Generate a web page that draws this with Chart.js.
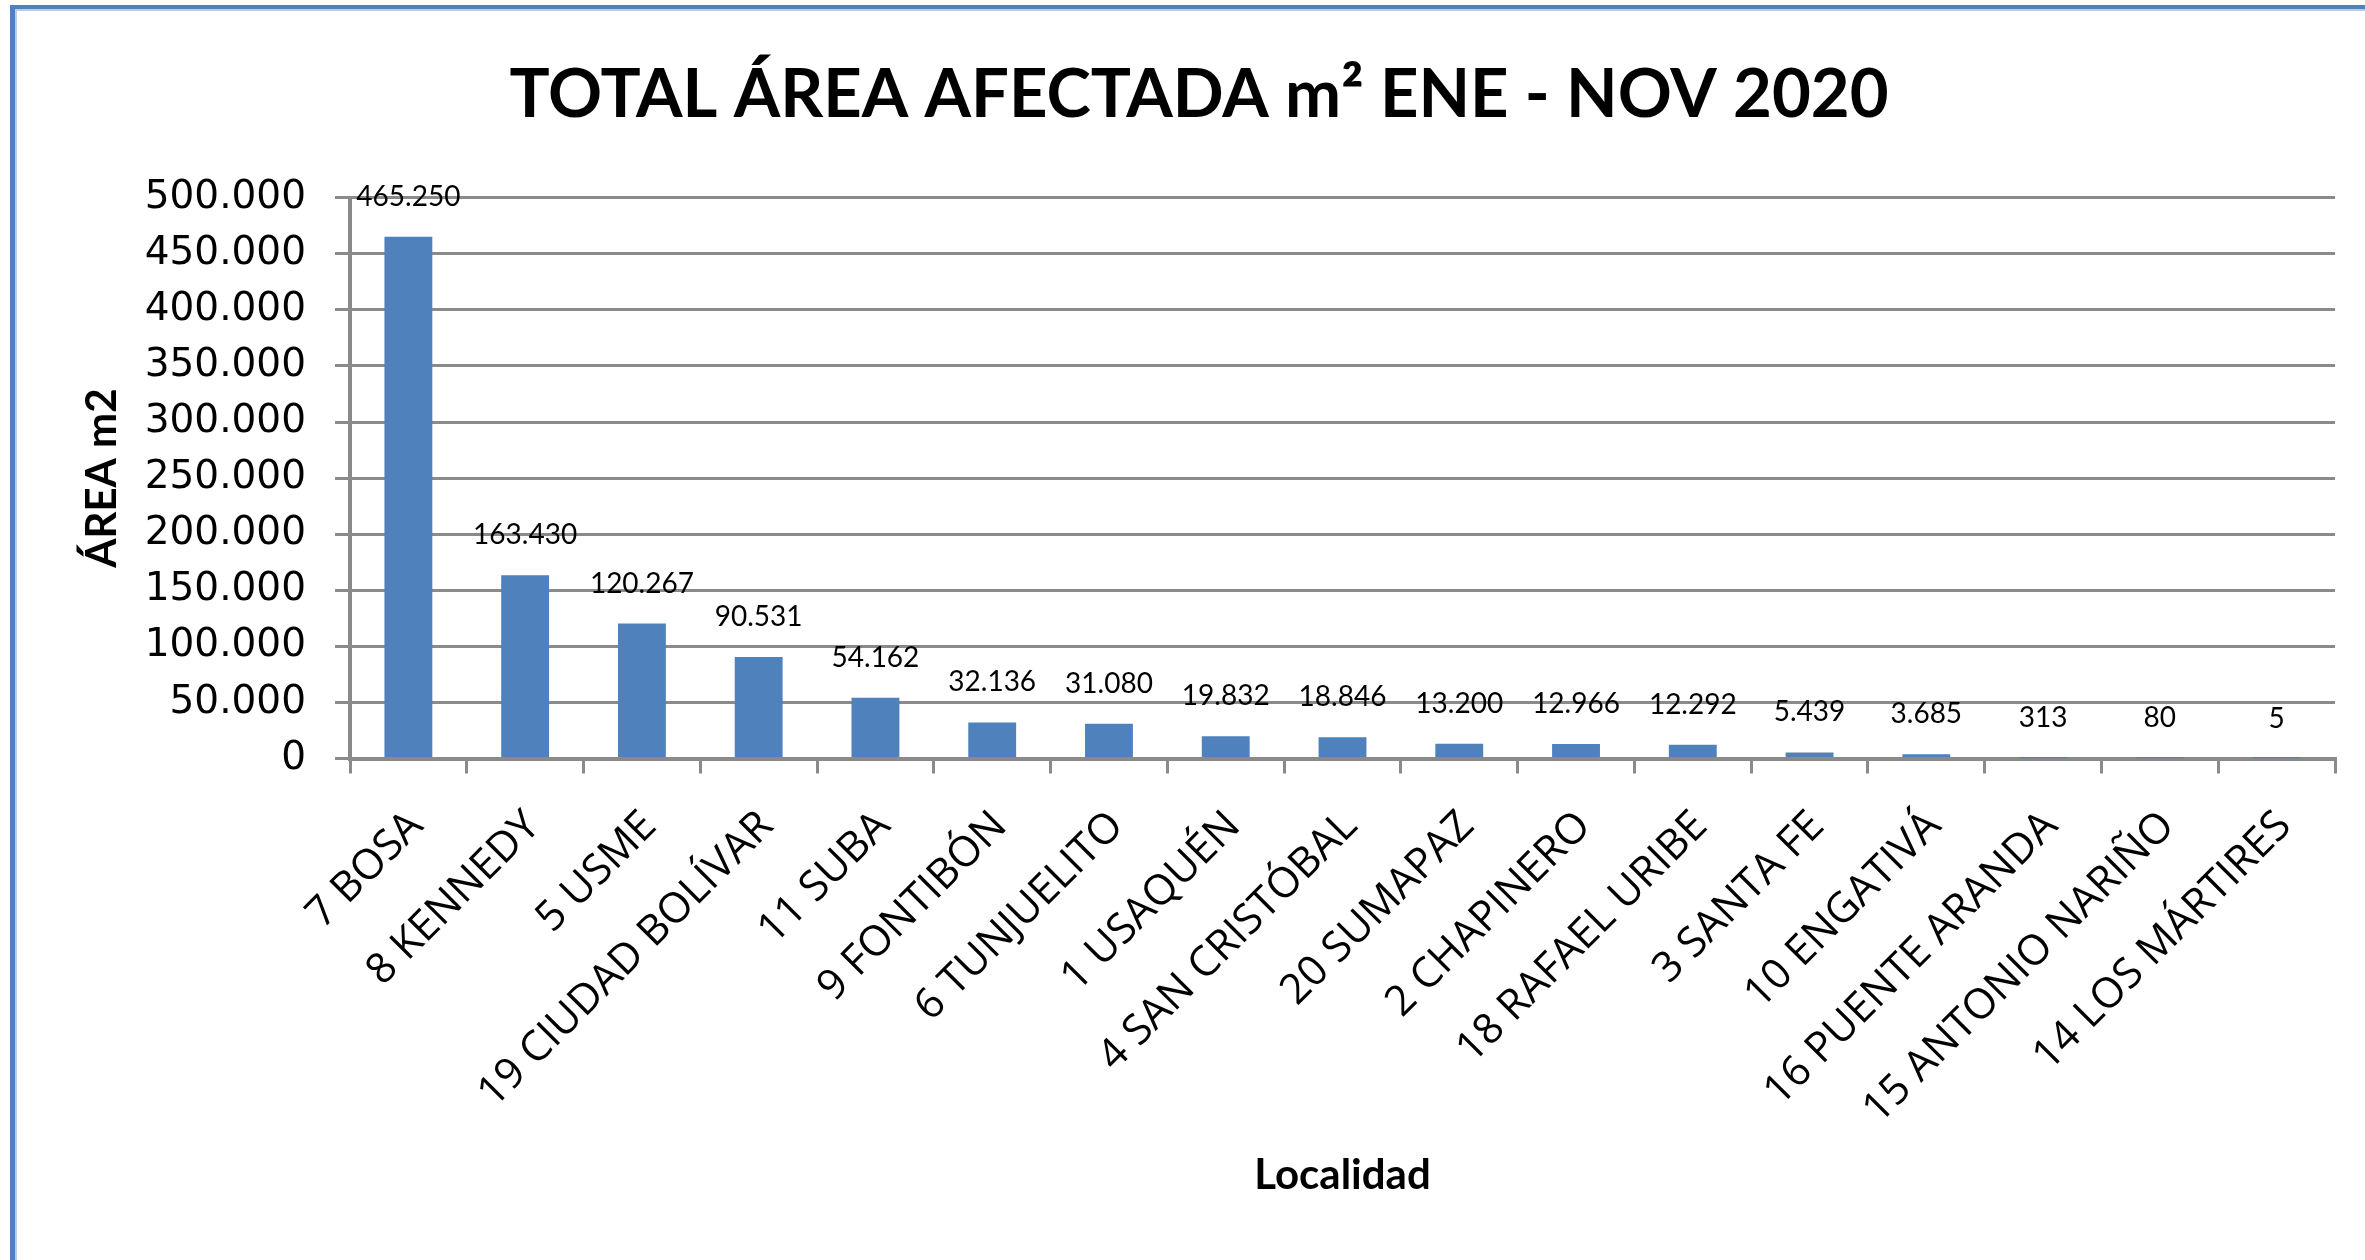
<!DOCTYPE html>
<html lang="es">
<head>
<meta charset="UTF-8">
<title>Total área afectada</title>
<script src="https://cdn.jsdelivr.net/npm/chart.js"></script>
<style>
    body {
        margin: 0;
        background: #fff;
        overflow: hidden;
    }
    /* marco azul del gráfico */
    .frame {
        position: absolute;
        left: 10px;
        top: 5px;
        width: 2500px;
        height: 1400px;
        border-top: 4px solid #4f81bd;
        border-left: 5px solid #4f81bd;
        box-shadow: inset 2px 2px 0 #b9cde5;
    }
    #areaChart {
        position: absolute;
        left: 0;
        top: 0;
    }
</style>
</head>
<body>
<div class="frame"></div>
<canvas id="areaChart" width="2365" height="1260"></canvas>
<script>
    // Localidades y área afectada (m2) ene - nov 2020
    var localidades = [
        '7 BOSA', '8 KENNEDY', '5 USME', '19 CIUDAD BOLÍVAR', '11 SUBA',
        '9 FONTIBÓN', '6 TUNJUELITO', '1 USAQUÉN', '4 SAN CRISTÓBAL', '20 SUMAPAZ',
        '2 CHAPINERO', '18 RAFAEL URIBE', '3 SANTA FE', '10 ENGATIVÁ',
        '16 PUENTE ARANDA', '15 ANTONIO NARIÑO', '14 LOS MÁRTIRES'
    ];
    var areaM2 = [465250, 163430, 120267, 90531, 54162, 32136, 31080, 19832,
        18846, 13200, 12966, 12292, 5439, 3685, 313, 80, 5];
    var yTickValues = [0, 50000, 100000, 150000, 200000, 250000, 300000,
        350000, 400000, 450000, 500000];

    var gridGray = '#8a8a8a';

    // separador de miles con punto
    function miles(v) {
        return String(v).replace(/\B(?=(\d{3})+(?!\d))/g, '.');
    }

    // etiquetas de valor encima de cada barra
    var valueLabels = {
        id: 'valueLabels',
        afterDatasetsDraw: function (chart) {
            var ctx = chart.ctx;
            var meta = chart.getDatasetMeta(0);
            ctx.save();
            ctx.font = '28px Lato';
            ctx.fillStyle = '#000';
            ctx.textAlign = 'center';
            ctx.textBaseline = 'middle';
            meta.data.forEach(function (bar, i) {
                ctx.fillText(miles(areaM2[i]), bar.x, bar.y - 40);
            });
            ctx.restore();
        }
    };

    var ctx = document.getElementById('areaChart').getContext('2d');
    new Chart(ctx, {
        type: 'bar',
        data: {
            labels: localidades,
            datasets: [{
                data: areaM2,
                backgroundColor: '#4f81bd',
                barPercentage: 0.41,
                categoryPercentage: 1.0
            }]
        },
        options: {
            responsive: false,
            animation: false,
            layout: {
                padding: { left: 63, right: 30, top: 20, bottom: 0 }
            },
            plugins: {
                legend: { display: false },
                tooltip: { enabled: false },
                title: {
                    display: true,
                    text: 'TOTAL ÁREA AFECTADA m² ENE - NOV 2020',
                    color: '#000',
                    font: { family: 'Lato', size: 67, weight: 'bold', lineHeight: 1.2 },
                    padding: { top: 35, bottom: 62.3 }
                }
            },
            scales: {
                x: {
                    afterFit: function (s) { s.height = 501.5; },
                    grid: {
                        drawOnChartArea: false,
                        drawTicks: true,
                        tickLength: 15,
                        color: gridGray,
                        lineWidth: 3
                    },
                    border: { display: true, color: gridGray, width: 4 },
                    ticks: {
                        autoSkip: false,
                        minRotation: 45,
                        maxRotation: 45,
                        padding: 28,
                        labelOffset: 8,
                        color: '#000',
                        font: { family: 'Open Sans', size: 42 }
                    },
                    title: {
                        display: true,
                        text: 'Localidad',
                        color: '#000',
                        font: { family: 'Lato', size: 42, weight: 'bold', lineHeight: 1.2 },
                        padding: { bottom: 59.8 }
                    }
                },
                y: {
                    min: 0,
                    max: 500000,
                    afterFit: function (s) { s.width = 287; },
                    afterBuildTicks: function (s) {
                        s.ticks = yTickValues.map(function (v) { return { value: v }; });
                    },
                    grid: {
                        color: gridGray,
                        lineWidth: 3,
                        tickLength: 15
                    },
                    border: { display: true, color: gridGray, width: 4 },
                    ticks: {
                        padding: 29,
                        color: '#000',
                        font: { family: 'DejaVu Sans', size: 39 },
                        callback: function (v) { return miles(v); }
                    },
                    title: {
                        display: true,
                        text: 'ÁREA m2',
                        color: '#000',
                        font: { family: 'Lato', size: 42, weight: 'bold', lineHeight: 1.2 },
                        padding: { top: 13.8 }
                    }
                }
            }
        },
        plugins: [valueLabels]
    });
</script>
</body>
</html>
